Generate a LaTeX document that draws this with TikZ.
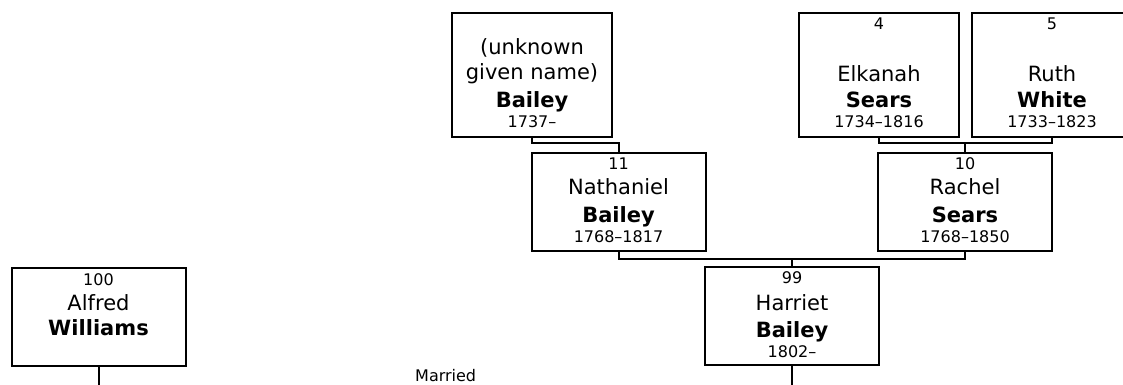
\documentclass[tikz,border=0pt]{standalone}
\usepackage{fontspec}
\setmainfont{DejaVu Sans}
\begin{document}
\begin{tikzpicture}[x=1pt,y=-1pt,
  person/.style={draw, line width=2pt, rectangle, inner sep=0pt, outer sep=0pt},
  tall/.style={person, minimum width=160pt, minimum height=124pt},
  wide/.style={person, minimum width=174pt, minimum height=98pt},
  big/.style={font=\fontsize{21}{24}\selectfont, anchor=base, inner sep=0pt},
  bigb/.style={font=\fontsize{21}{24}\selectfont\bfseries, anchor=base, inner sep=0pt},
  small/.style={font=\fontsize{16}{18}\selectfont, anchor=base, inner sep=0pt},
  link/.style={line width=2pt}]
\useasboundingbox (0,0) rectangle (1123,385);

% boxes
\node[tall] (ub) at (532,75) {};
\node[tall] (es) at (879,75) {};
\node[tall] (rw) at (1052,75) {};
\node[wide] (nb) at (618.5,202) {};
\node[wide] (rs) at (965,202) {};
\node[wide] (hb) at (792,316) {};
\node[wide] (aw) at (98.5,316.5) {};

% texts: unknown Bailey
\node[big] (ub1) at (532,55) {(unknown};
\node[big] (ub2) at (532,80) {given name)};
\node[bigb] (ub3) at (532,107) {Bailey};
\node[small] (ub4) at (532,128) {1737–};
% Elkanah Sears
\node[small] (es0) at (879,30) {4};
\node[big] (es1) at (879,82) {Elkanah};
\node[bigb] (es2) at (879,107) {Sears};
\node[small] (es3) at (879,128) {1734–1816};
% Ruth White
\node[small] (rw0) at (1052,30) {5};
\node[big] (rw1) at (1052,82) {Ruth};
\node[bigb] (rw2) at (1052,107) {White};
\node[small] (rw3) at (1052,128) {1733–1823};
% Nathaniel Bailey
\node[small] (nb0) at (618.5,169) {11};
\node[big] (nb1) at (618.5,194) {Nathaniel};
\node[bigb] (nb2) at (618.5,222) {Bailey};
\node[small] (nb3) at (618.5,242) {1768–1817};
% Rachel Sears
\node[small] (rs0) at (965,169) {10};
\node[big] (rs1) at (965,194) {Rachel};
\node[bigb] (rs2) at (965,222) {Sears};
\node[small] (rs3) at (965,242) {1768–1850};
% Harriet Bailey
\node[small] (hb0) at (792,283) {99};
\node[big] (hb1) at (792,310) {Harriet};
\node[bigb] (hb2) at (792,337) {Bailey};
\node[small] (hb3) at (792,357) {1802–};
% Alfred Williams
\node[small] (aw0) at (98.5,285) {100};
\node[big] (aw1) at (98.5,310) {Alfred};
\node[bigb] (aw2) at (98.5,335) {Williams};

\node[small, anchor=base west] (mar) at (415,381) {Married};

% connectors
\coordinate (m1) at (965,143);
\coordinate (m2) at (792,259);
\coordinate (h0) at (792,386);
\coordinate (a0) at (98.5,386);
\draw[link] (ub.south) -- ++(0,6) -| (nb.north);
\draw[link] (es.south) -- ++(0,6) -| (rw.south);
\draw[link] (rs.north) -- (m1);
\draw[link] (nb.south) -- ++(0,8) -| (rs.south);
\draw[link] (hb.north) -- (m2);
\draw[link] (hb.south) -- (h0);
\draw[link] (aw.south) -- (a0);
\end{tikzpicture}
\end{document}
